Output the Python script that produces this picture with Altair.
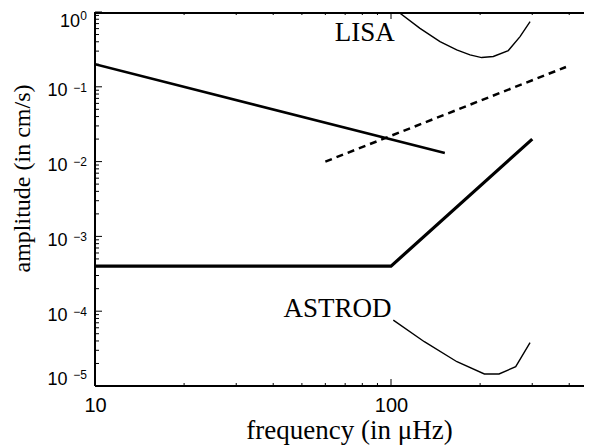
import altair as alt
import pandas as pd

# ---------------- data ----------------
freq_domain = [10, 448.7]
amp_domain = [1e-5, 1]

line1_freq = [10, 152]
line1_amp = [0.2, 0.013]

dash_freq = [60, 390]
dash_amp = [0.01, 0.184]

thick_freq = [10, 100, 300]
thick_amp = [4.0e-4, 4.0e-4, 0.02]

lisa_freq = [105.9, 125.3, 146.4, 166.7, 184.9, 202.4, 221.6, 249, 272.8, 295]
lisa_amp = [1.0, 0.605, 0.402, 0.311, 0.267, 0.246, 0.254, 0.305, 0.469, 0.743]

astrod_freq = [101.8, 129.6, 167, 206.7, 231.7, 263.8, 294.9]
astrod_amp = [7.6e-5, 3.91e-5, 2.11e-5, 1.45e-5, 1.45e-5, 1.81e-5, 3.79e-5]

label_text = ["LISA", "ASTROD"]
label_freq = [81.6, 65.9]
label_amp = [0.524, 1.08e-4]

x_major = [10, 100]
x_minor = [20, 30, 40, 50, 60, 70, 80, 90, 200, 300, 400]
y_major = [1, 1e-1, 1e-2, 1e-3, 1e-4, 1e-5]
y_minor = [m * 10.0 ** e for e in range(-5, 0) for m in range(2, 10)]
y_base = ["10"] * 6
y_exponent = ["0", "−1", "−2", "−3", "−4", "−5"]

x_title = "frequency (in μHz)"
y_title = "amplitude (in cm/s)"

# ---------------- chart ----------------
W, H = 489, 374
SERIF = "Liberation Serif"
SANS = "Liberation Sans"

xs = alt.Scale(type="log", domain=freq_domain, nice=False)
ys = alt.Scale(type="log", domain=amp_domain, nice=False)

x_axis = alt.Axis(
    values=x_major,
    labelExpr="format(datum.value, 'd')",
    ticks=False, domain=False, grid=False,
    labelFont=SANS, labelFontSize=20, labelColor="black", labelPadding=9,
    labelFlush=False,
    title=x_title, titleFont=SERIF, titleFontSize=27, titleFontWeight="normal",
    titleColor="black", titleX=254, titleY=52, titleBaseline="alphabetic",
    titleAlign="center",
)
y_axis = alt.Axis(
    values=y_major, labels=False,
    ticks=False, domain=False, grid=False,
    title=y_title, titleFont=SERIF, titleFontSize=24, titleFontWeight="normal",
    titleColor="black", titleX=-73, titleY=166, titleAngle=270,
    titleBaseline="middle", titleAlign="center",
)


def X(field):
    return alt.X(field, type="quantitative", scale=xs, axis=x_axis)


def Y(field):
    return alt.Y(field, type="quantitative", scale=ys, axis=y_axis)


def line_layer(fx, fy, width, dash=None):
    df = pd.DataFrame({"f": fx, "a": fy, "o": list(range(len(fx)))})
    kw = dict(color="black", strokeWidth=width, clip=True)
    if dash:
        kw["strokeDash"] = dash
    return alt.Chart(df).mark_line(**kw).encode(x=X("f"), y=Y("a"), order="o:Q")


layers = [
    line_layer(line1_freq, line1_amp, 2.5),
    line_layer(dash_freq, dash_amp, 2.5, dash=[7, 5]),
    line_layer(thick_freq, thick_amp, 3.2),
    line_layer(lisa_freq, lisa_amp, 1.4),
    line_layer(astrod_freq, astrod_amp, 1.4),
]


def xticks(vals, length):
    df = pd.DataFrame({"v": vals})
    bot = alt.Chart(df).mark_rule(color="black", strokeWidth=1).encode(
        x=X("v"), y=alt.value(H), y2=alt.value(H - length))
    top = alt.Chart(df).mark_rule(color="black", strokeWidth=1).encode(
        x=X("v"), y=alt.value(0), y2=alt.value(length))
    return [bot, top]


def yticks(vals, length):
    df = pd.DataFrame({"v": vals})
    return [alt.Chart(df).mark_rule(color="black", strokeWidth=1).encode(
        y=Y("v"), x=alt.value(0), x2=alt.value(length))]


layers += xticks(x_major, 7) + xticks(x_minor, 3)
layers += yticks(y_major, 7) + yticks(y_minor, 4)

# y tick labels: "10" with a raised exponent
ylab_df = pd.DataFrame({"v": y_major, "base": y_base, "exp": y_exponent})


def ylabel_layers(test, base_x, base_dy, exp_dy):
    src = alt.Chart(ylab_df).transform_filter(test)
    base = src.mark_text(font=SANS, fontSize=18, color="black", align="right",
                         baseline="alphabetic", dy=base_dy).encode(
        x=alt.value(base_x), y=Y("v"), text="base:N")
    exp = src.mark_text(font=SANS, fontSize=12, color="black", align="right",
                        baseline="alphabetic", dy=exp_dy).encode(
        x=alt.value(-8), y=Y("v"), text="exp:N")
    return [base, exp]


layers += ylabel_layers("datum.v > 0.5", -15, 14.5, 7.5)
layers += ylabel_layers("datum.v < 0.5 && datum.v > 2e-5", -27.5, 9.5, 4.7)
layers += ylabel_layers("datum.v < 2e-5", -27.5, -1, -7)

# frame (top, bottom, left); the right edge lies outside the picture
frame_style = dict(color="black", strokeWidth=2)
layers.append(alt.Chart().mark_rule(**frame_style).encode(
    x=alt.value(0), x2=alt.value(W), y=alt.value(1)))
layers.append(alt.Chart().mark_rule(**frame_style).encode(
    x=alt.value(0), x2=alt.value(W), y=alt.value(H)))
layers.append(alt.Chart().mark_rule(**frame_style).encode(
    x=alt.value(0), y=alt.value(0), y2=alt.value(H)))

labels_df = pd.DataFrame({"t": label_text, "f": label_freq, "a": label_amp})
layers.append(
    alt.Chart(labels_df).mark_text(font=SERIF, fontSize=27, color="black",
                                   align="center", baseline="middle").encode(
        x=X("f"), y=Y("a"), text="t:N")
)

chart = alt.layer(*layers).properties(
    width=W, height=H,
    autosize=alt.AutoSizeParams(type="none"),
    padding={"left": 87, "top": 4, "right": 0, "bottom": 62},
    background="white",
).configure_view(strokeWidth=0)

chart.save("out.html", embed_options={"renderer": "svg", "actions": False})
